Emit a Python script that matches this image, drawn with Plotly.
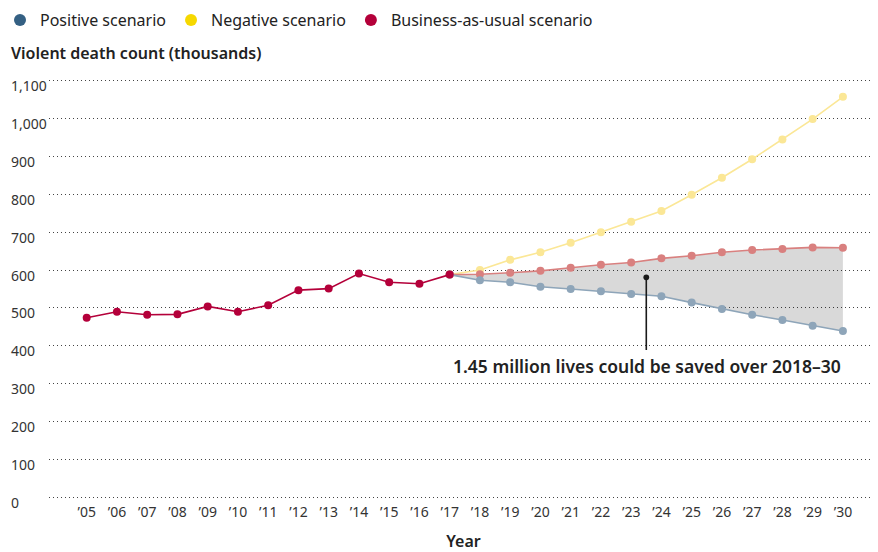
import plotly.graph_objects as go

# ---- data ----
years_hist = list(range(2005, 2018))
bau_hist = [474, 490, 482, 483, 504, 490, 507, 547, 551, 591, 568, 564, 588]

years_proj = list(range(2017, 2031))
positive = [588, 573, 568, 556, 550, 544, 537, 531, 514, 497, 482, 468, 453, 439]
negative = [588, 600, 627, 647, 672, 700, 728, 756, 799, 844, 893, 945, 999, 1058]
bau_proj = [588, 589, 593, 598, 606, 614, 620, 631, 638, 647, 653, 656, 660, 659]

tick_years = list(range(2005, 2031))
tick_text = ["\u2019%02d" % (y % 100) for y in tick_years]
y_ticks = [0, 100, 200, 300, 400, 500, 600, 700, 800, 900, 1000, 1100]
y_tick_text = ["0", "100", "200", "300", "400", "500", "600", "700", "800", "900", "1,000", "1,100"]

legend_names = ["Positive scenario", "Negative scenario", "Business-as-usual scenario"]
legend_colors = ["#346083", "#f6d800", "#b4003a"]

annot_text = "1.45 million lives could be saved over 2018\u201330"
annot_point = (2023.5, 581)
annot_tail = (2023.5, 385)

FONT = "Noto Sans"
TXT = "#333333"

W, H = 870, 544
PLOT_L = 41
PLOT_TOP = 71
PLOT_BOT = 491
plot_h = PLOT_BOT - PLOT_TOP
plot_w = W - PLOT_L

fig = go.Figure()

# shaded area between positive and BAU projection
fig.add_trace(go.Scatter(x=years_proj, y=positive, mode="lines", line=dict(width=0),
                         showlegend=False, hoverinfo="skip"))
fig.add_trace(go.Scatter(x=years_proj, y=bau_proj, mode="lines", line=dict(width=0),
                         fill="tonexty", fillcolor="rgba(0,0,0,0.15)",
                         showlegend=False, hoverinfo="skip"))

# projections
fig.add_trace(go.Scatter(x=years_proj, y=negative, mode="lines+markers",
                         line=dict(color="#fbe796", width=1.6),
                         marker=dict(color="#fbe796", size=8), showlegend=False))
fig.add_trace(go.Scatter(x=years_proj, y=bau_proj, mode="lines+markers",
                         line=dict(color="#d9807f", width=1.6),
                         marker=dict(color="#d9807f", size=8), showlegend=False))
fig.add_trace(go.Scatter(x=years_proj, y=positive, mode="lines+markers",
                         line=dict(color="#8ea5b9", width=1.6),
                         marker=dict(color="#8ea5b9", size=8), showlegend=False))

# history
fig.add_trace(go.Scatter(x=years_hist, y=bau_hist, mode="lines+markers",
                         line=dict(color="#b4003a", width=1.6),
                         marker=dict(color="#b4003a", size=8), showlegend=False))

# legend entries
for n, c in zip(legend_names, legend_colors):
    fig.add_trace(go.Scatter(x=[None], y=[None], mode="markers", name=n,
                             marker=dict(color=c, size=11)))

# annotation line with dot
fig.add_annotation(x=annot_point[0], y=annot_point[1], ax=annot_tail[0], ay=annot_tail[1],
                   axref="x", ayref="y", xref="x", yref="y", text="",
                   showarrow=True, arrowhead=6, arrowsize=0.9, arrowwidth=1.6,
                   arrowcolor="#1a1a1a", standoff=0)
fig.add_annotation(x=2030, y=annot_tail[1], xref="x", yref="y", text=annot_text,
                   showarrow=False, xanchor="right", yanchor="top", yshift=-1,
                   font=dict(family=FONT, size=17.5, color="#222222", weight=600))

# y tick labels, left aligned
for v, t in zip(y_ticks, y_tick_text):
    fig.add_annotation(x=0, xref="paper", xshift=-40, y=v, yref="y", yshift=-5,
                       text=t, showarrow=False, xanchor="left", yanchor="middle",
                       font=dict(family=FONT, size=14, color=TXT))

# y title
fig.add_annotation(x=0, xref="paper", xshift=-40, y=1 + (PLOT_TOP - 45) / plot_h, yref="paper",
                   text="Violent death count (thousands)", showarrow=False,
                   xanchor="left", yanchor="middle",
                   font=dict(family=FONT, size=16, color="#222222", weight=600))

fig.update_layout(
    width=W, height=H,
    margin=dict(l=PLOT_L, r=0, t=PLOT_TOP, b=H - PLOT_BOT, autoexpand=False),
    paper_bgcolor="white", plot_bgcolor="white",
    font=dict(family=FONT, color=TXT),
    showlegend=True,
    legend=dict(orientation="h", xref="paper", yref="paper",
                x=(-8 - PLOT_L) / plot_w, xanchor="left",
                y=1 + (PLOT_TOP - 12) / plot_h, yanchor="middle",
                traceorder="normal",
                font=dict(size=16, color="#222222", family=FONT),
                itemwidth=30, itemsizing="constant"),
    xaxis=dict(range=[2003.754, 2031.16], tickvals=tick_years, ticktext=tick_text,
               showgrid=False, zeroline=False, showline=False, ticks="",
               ticklabelstandoff=3,
               tickfont=dict(family=FONT, size=14, color=TXT),
               title=dict(text="Year", font=dict(family=FONT, size=16, color="#222222", weight=600),
                          standoff=31)),
    yaxis=dict(range=[-5, 1105], tickvals=y_ticks, showticklabels=False,
               showgrid=True, gridcolor="#444444", griddash="1px,3px", gridwidth=1,
               zeroline=False, showline=False, ticks=""),
)

fig.write_html("out.html")
